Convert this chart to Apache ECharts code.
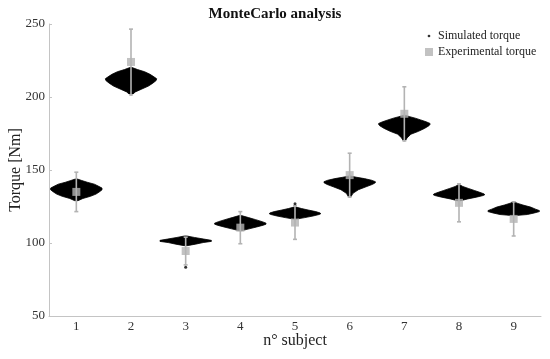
<!DOCTYPE html>
<html>
<head>
<meta charset="utf-8">
<script src="https://cdn.jsdelivr.net/npm/echarts@6/dist/echarts.min.js"></script>
<style>html,body{margin:0;padding:0;background:#fff;}#c{width:550px;height:359px;}</style>
</head>
<body>
<div id="c"></div>
<script>
// ---- data ----
const subjects = ['1', '2', '3', '4', '5', '6', '7', '8', '9'];
const yTicks = [50, 100, 150, 200, 250];
// experimental torque (mean) and its +/- error
const expTorque = [135, 224, 94.5, 110.5, 114, 146.5, 188.5, 127.5, 116.5];
const expError  = [13.5, 22.5, 9.5, 11, 11.5, 15, 18.5, 13, 11.7];
// simulated torque outliers [subject index, torque]
const simOutliers = [[2, 83.4], [4, 126.8]];
// simulated torque distributions: [torque, relative half width]
const simProfile1 = [[129, 0.03], [130.5, 0.12], [132, 0.26], [133.5, 0.36], [135, 0.42], [136.4, 0.47], [137.6, 0.47], [139, 0.4], [140.3, 0.33], [141.6, 0.2], [142.8, 0.1], [143.8, 0.02]];
const simProfile2 = [[201.5, 0.02], [203.5, 0.08], [205.5, 0.2], [207.5, 0.32], [209.5, 0.4], [211.3, 0.46], [212.5, 0.47], [213.8, 0.42], [215.5, 0.35], [217.3, 0.25], [218.8, 0.12], [220.2, 0.02]];
const simProfile3 = [[98.2, 0.03], [99.2, 0.18], [100.3, 0.32], [101.1, 0.47], [101.8, 0.47], [102.7, 0.33], [103.8, 0.16], [104.8, 0.02]];
const simProfile4 = [[108.5, 0.03], [109.7, 0.16], [111, 0.3], [112.2, 0.42], [112.9, 0.47], [113.6, 0.47], [114.6, 0.4], [116, 0.28], [117.4, 0.15], [118.8, 0.02]];
const simProfile5 = [[116.4, 0.03], [117.4, 0.18], [118.5, 0.33], [119.5, 0.44], [120, 0.47], [120.6, 0.46], [121.5, 0.38], [122.6, 0.24], [123.6, 0.12], [124.6, 0.02]];
const simProfile6 = [[131.5, 0.02], [134, 0.06], [136.5, 0.16], [138.5, 0.3], [140.2, 0.42], [141.3, 0.47], [142, 0.47], [143, 0.4], [144.1, 0.27], [145, 0.13], [145.8, 0.02]];
const simProfile7 = [[170, 0.02], [172, 0.05], [174.5, 0.12], [176.5, 0.26], [178.5, 0.37], [180.3, 0.45], [181.2, 0.47], [181.9, 0.47], [183, 0.4], [184.3, 0.3], [185.5, 0.2], [186.5, 0.1], [187.4, 0.02]];
const simProfile8 = [[129, 0.03], [130.2, 0.16], [131.4, 0.32], [132.5, 0.44], [133, 0.47], [133.6, 0.46], [134.7, 0.38], [136, 0.28], [137.4, 0.17], [138.7, 0.07], [139.8, 0.02]];
const simProfile9 = [[118.8, 0.03], [119.5, 0.25], [120.6, 0.38], [121.5, 0.47], [122.2, 0.47], [123.2, 0.4], [124.6, 0.31], [126, 0.17], [127.3, 0.06], [128.2, 0.02]];

const simProfiles = [simProfile1, simProfile2, simProfile3, simProfile4, simProfile5, simProfile6, simProfile7, simProfile8, simProfile9];

const FONT = '"Liberation Serif", "DejaVu Serif", serif';
const GRAY = '#b3b3b3';
const AXIS = '#c4c4c4';
const dotIcon = 'path://M0,0L0.01,0M10,10L10.01,10M3.3,5A1.7,1.7,0,1,1,6.7,5A1.7,1.7,0,1,1,3.3,5Z';

const chart = echarts.init(document.getElementById('c'));
chart.setOption({
  animation: false,
  backgroundColor: '#fff',
  title: {
    text: 'MonteCarlo analysis',
    left: 'center',
    top: 2,
    textStyle: { fontFamily: FONT, fontSize: 15, fontWeight: 'bold', color: '#111' }
  },
  legend: {
    orient: 'vertical',
    left: 425,
    top: 29,
    padding: 0,
    itemWidth: 8,
    itemHeight: 8,
    itemGap: 2,
    textStyle: { fontFamily: FONT, fontSize: 12, color: '#222', lineHeight: 14 },
    data: [
      { name: 'Simulated torque', icon: dotIcon },
      { name: 'Experimental torque', icon: 'rect' }
    ]
  },
  grid: { left: 49, right: 9, top: 24, bottom: 43, containLabel: false, outerBoundsMode: 'none' },
  xAxis: {
    type: 'category',
    data: subjects,
    name: 'n\u00b0 subject',
    nameLocation: 'middle',
    nameGap: 17,
    nameMoveOverlap: false,
    nameTextStyle: { fontFamily: FONT, fontSize: 16, color: '#222' },
    axisLine: { lineStyle: { color: AXIS, width: 1 } },
    axisTick: { alignWithLabel: true, inside: true, length: 3, lineStyle: { color: AXIS } },
    axisLabel: { fontFamily: FONT, fontSize: 13, color: '#333', margin: 4 },
    splitLine: { show: false }
  },
  yAxis: {
    type: 'value',
    min: yTicks[0],
    max: yTicks[yTicks.length - 1],
    interval: 50,
    name: 'Torque [Nm]',
    nameLocation: 'middle',
    nameGap: 25,
    nameMoveOverlap: false,
    nameTextStyle: { fontFamily: FONT, fontSize: 16, color: '#222' },
    axisLine: { show: true, lineStyle: { color: AXIS, width: 1 } },
    axisTick: { show: true, inside: true, length: 3, lineStyle: { color: AXIS } },
    axisLabel: { fontFamily: FONT, fontSize: 13, color: '#333', margin: 4 },
    splitLine: { show: false }
  },
  series: [
    {
      type: 'custom',
      name: 'Simulated distribution',
      silent: true,
      data: subjects.map((s, i) => [i]),
      encode: { x: 0 },
      renderItem: function (params, api) {
        const idx = api.value(0);
        const prof = simProfiles[idx];
        const bw = api.size([1, 0])[0];
        const right = prof.map(function (d) {
          const p = api.coord([idx, d[0]]);
          return [p[0] + d[1] * bw, p[1]];
        });
        const left = prof.slice().reverse().map(function (d) {
          const p = api.coord([idx, d[0]]);
          return [p[0] - d[1] * bw, p[1]];
        });
        return { type: 'polygon', shape: { points: right.concat(left) }, style: { fill: '#000', stroke: '#000', lineWidth: 0.8 } };
      },
      z: 1
    },
    {
      type: 'custom',
      name: 'Experimental error',
      silent: true,
      data: subjects.map((s, i) => [i, expTorque[i] - expError[i], expTorque[i] + expError[i]]),
      encode: { x: 0, y: [1, 2] },
      renderItem: function (params, api) {
        const idx = api.value(0);
        const lo = api.coord([idx, api.value(1)]);
        const hi = api.coord([idx, api.value(2)]);
        const c = 2;
        const st = { stroke: GRAY, lineWidth: 1.6 };
        return {
          type: 'group',
          children: [
            { type: 'line', shape: { x1: lo[0], y1: lo[1], x2: hi[0], y2: hi[1] }, style: st },
            { type: 'line', shape: { x1: hi[0] - c, y1: hi[1], x2: hi[0] + c, y2: hi[1] }, style: st },
            { type: 'line', shape: { x1: lo[0] - c, y1: lo[1], x2: lo[0] + c, y2: lo[1] }, style: st }
          ]
        };
      },
      z: 2
    },
    {
      type: 'scatter',
      name: 'Experimental torque',
      data: subjects.map((s, i) => [i, expTorque[i]]),
      symbol: 'rect',
      symbolSize: 8,
      itemStyle: { color: GRAY },
      z: 3
    },
    {
      type: 'scatter',
      name: 'Simulated torque',
      data: simOutliers,
      symbol: 'circle',
      symbolSize: 3,
      itemStyle: { color: '#000' },
      z: 4
    }
  ]
});
</script>
</body>
</html>
